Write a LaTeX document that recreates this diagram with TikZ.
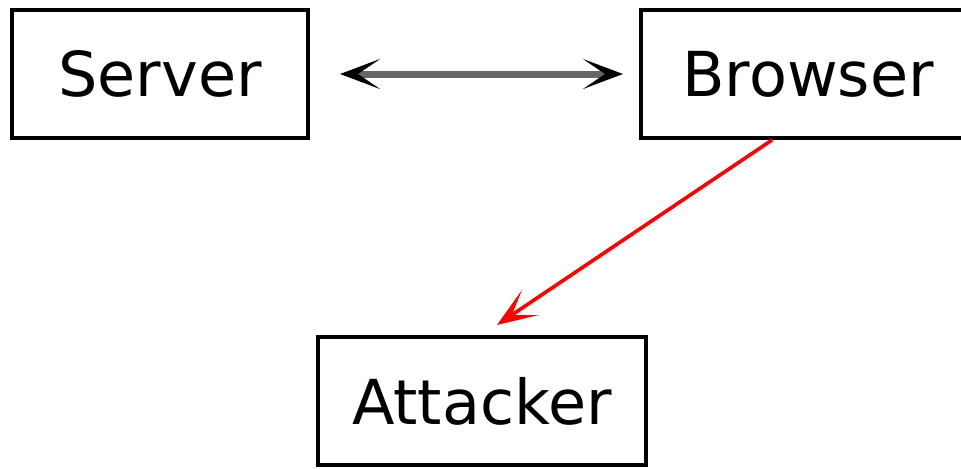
\documentclass[tikz,border=0pt]{standalone}
\usepackage{fontspec}
\setmainfont{DejaVu Sans}
\usetikzlibrary{arrows.meta, positioning}

\begin{document}
\begin{tikzpicture}[x=0.5pt, y=-0.5pt, >=Stealth, font=\fontsize{31}{36}\selectfont]
\tikzstyle{bx}=[draw, line width=2pt, inner sep=0pt, minimum height=64pt, align=center]
\useasboundingbox (0,0) rectangle (961,468);

\node[bx, minimum width=148pt] (Server) at (160,74) {Server};
\node[bx, minimum width=167pt, right=164.5pt of Server] (Browser) {Browser};
\draw[line width=3.5pt, draw=black!60, {Stealth[black, length=20pt, width=15pt, inset=11pt]}-{Stealth[black, length=20pt, width=15pt, inset=11pt]}, shorten <=15pt, shorten >=8pt] (Server) -- (Browser);

\node[bx, minimum width=164pt] (Attacker) at (482,401) {Attacker};
\draw[red, line width=1.8pt, -{Stealth[length=20pt, width=15pt, inset=11pt]}, shorten >=9pt] ([xshift=-18pt]Browser.south) -- (Attacker.north);
\end{tikzpicture}
\end{document}
